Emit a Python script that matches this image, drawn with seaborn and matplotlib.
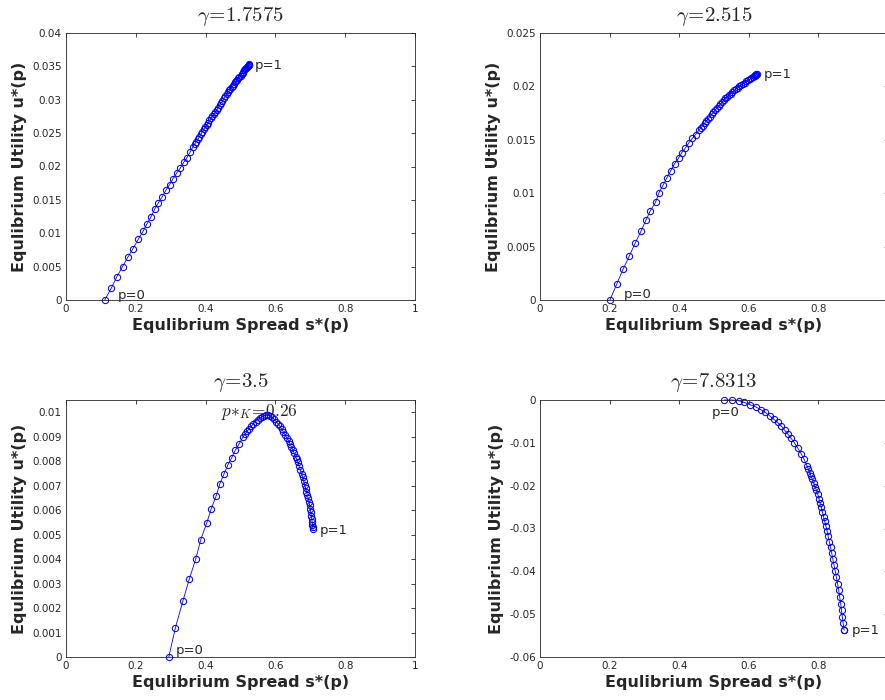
import matplotlib
matplotlib.use("Agg")
import matplotlib.pyplot as plt
import seaborn as sns
from matplotlib.ticker import FuncFormatter, FixedLocator

sns.set_style("white")
plt.rcParams['font.family'] = ['DejaVu Sans']
plt.rcParams['mathtext.fontset'] = 'cm'
plt.rcParams['axes.unicode_minus'] = False

# ---------------- data ----------------
titles = [r'$\gamma\!=\!1.7575$', r'$\gamma\!=\!2.515$', r'$\gamma\!=\!3.5$', r'$\gamma\!=\!7.8313$']

s1 = [0.111, 0.130, 0.145, 0.162, 0.177, 0.192, 0.207, 0.221, 0.232, 0.244,
      0.254, 0.265, 0.276, 0.287, 0.297, 0.307, 0.317, 0.328, 0.337, 0.346,
      0.355, 0.363, 0.369, 0.373, 0.378, 0.382, 0.386, 0.390, 0.395, 0.399,
      0.403, 0.407, 0.411, 0.415, 0.419, 0.424, 0.428, 0.432, 0.436, 0.440,
      0.444, 0.448, 0.452, 0.456, 0.460, 0.464, 0.468, 0.471, 0.475, 0.478,
      0.481, 0.485, 0.488, 0.491, 0.494, 0.497, 0.500, 0.503, 0.506, 0.508,
      0.511, 0.513, 0.515, 0.517, 0.519, 0.521, 0.522, 0.523, 0.524, 0.525]
u1 = [0.0, 0.0018, 0.0034, 0.0050, 0.0064, 0.0077, 0.0091, 0.0103, 0.0114, 0.0125,
      0.0136, 0.0146, 0.0155, 0.0165, 0.0173, 0.0182, 0.0190, 0.0198, 0.0206, 0.0213,
      0.0221, 0.0229, 0.0234, 0.0237, 0.0241, 0.0244, 0.0248, 0.0252, 0.0256, 0.0259,
      0.0262, 0.0265, 0.0269, 0.0272, 0.0275, 0.0278, 0.0282, 0.0285, 0.0288, 0.0292,
      0.0295, 0.0298, 0.0302, 0.0305, 0.0308, 0.0311, 0.0314, 0.0316, 0.0319, 0.0321,
      0.0323, 0.0326, 0.0328, 0.0330, 0.0332, 0.0334, 0.0336, 0.0338, 0.0340, 0.0342,
      0.0344, 0.0346, 0.0347, 0.0348, 0.0349, 0.0350, 0.0351, 0.0352, 0.0352, 0.0353]

s2 = [0.201, 0.221, 0.239, 0.257, 0.274, 0.290, 0.304, 0.317, 0.332, 0.342,
      0.354, 0.365, 0.376, 0.387, 0.398, 0.407, 0.418, 0.427, 0.438, 0.447,
      0.457, 0.463, 0.468, 0.473, 0.478, 0.483, 0.488, 0.493, 0.498, 0.503,
      0.508, 0.513, 0.518, 0.523, 0.528, 0.533, 0.538, 0.543, 0.548, 0.553,
      0.558, 0.563, 0.568, 0.573, 0.578, 0.583, 0.588, 0.593, 0.598, 0.603,
      0.607, 0.611, 0.614, 0.617, 0.619, 0.621, 0.622, 0.623]
u2 = [0.0, 0.00153, 0.00290, 0.00415, 0.00536, 0.00642, 0.00745, 0.00835, 0.00916, 0.01004,
      0.01078, 0.01147, 0.01212, 0.01278, 0.01328, 0.01378, 0.01424, 0.01468, 0.01515, 0.01549,
      0.01593, 0.01615, 0.01633, 0.01655, 0.01677, 0.01697, 0.01717, 0.01738, 0.01758, 0.01777,
      0.01797, 0.01815, 0.01834, 0.01852, 0.01870, 0.01887, 0.01903, 0.01918, 0.01933, 0.01948,
      0.01962, 0.01975, 0.01988, 0.02000, 0.02012, 0.02024, 0.02035, 0.02046, 0.02057, 0.02067,
      0.02076, 0.02085, 0.02093, 0.02100, 0.02105, 0.02110, 0.02113, 0.02115]

s3 = [0.2945, 0.3136, 0.3346, 0.3537, 0.3719, 0.3862, 0.4034, 0.4159, 0.4302, 0.4407,
      0.4522, 0.4637, 0.4751, 0.4847, 0.4962, 0.5067, 0.5130, 0.5190, 0.5250, 0.5310,
      0.5370, 0.5430, 0.5490, 0.5550, 0.5610, 0.5670, 0.5725, 0.5780, 0.5840, 0.5900,
      0.5960, 0.6020, 0.6080, 0.6130, 0.6180, 0.6230, 0.6280, 0.6330, 0.6380, 0.6420,
      0.6460, 0.6500, 0.6540, 0.6580, 0.6610, 0.6645, 0.6680, 0.6715, 0.6750, 0.6780,
      0.6810, 0.6840, 0.6865, 0.6890, 0.6915, 0.6940, 0.6960, 0.6980, 0.6998, 0.7013,
      0.7028, 0.7041, 0.7053, 0.7063, 0.7072, 0.7080]
u3 = [0.0, 0.00120, 0.00227, 0.00320, 0.00401, 0.00480, 0.00548, 0.00605, 0.00658, 0.00707,
      0.00746, 0.00784, 0.00815, 0.00844, 0.00871, 0.00898, 0.00910, 0.00922, 0.00933, 0.00943,
      0.00953, 0.00962, 0.00970, 0.00977, 0.00982, 0.00985, 0.00987, 0.00988, 0.00985, 0.00979,
      0.00971, 0.00962, 0.00952, 0.00942, 0.00931, 0.00919, 0.00907, 0.00895, 0.00883, 0.00871,
      0.00858, 0.00845, 0.00832, 0.00818, 0.00808, 0.00795, 0.00780, 0.00765, 0.00749, 0.00734,
      0.00719, 0.00704, 0.00690, 0.00676, 0.00662, 0.00648, 0.00634, 0.00620, 0.00606, 0.00592,
      0.00578, 0.00565, 0.00553, 0.00541, 0.00530, 0.00521]

s4 = [0.5298, 0.5508, 0.5709, 0.5871, 0.6033, 0.6205, 0.6348, 0.6473, 0.6597, 0.6711,
      0.6826, 0.6931, 0.7026, 0.7122, 0.7217, 0.7313, 0.7408, 0.7504, 0.7589, 0.7675,
      0.7715, 0.7752, 0.7790, 0.7828, 0.7866, 0.7905, 0.7943, 0.7981, 0.8015, 0.8048,
      0.8082, 0.8115, 0.8148, 0.8181, 0.8215, 0.8248, 0.8282, 0.8315, 0.8348, 0.8382,
      0.8415, 0.8449, 0.8482, 0.8516, 0.8550, 0.8583, 0.8612, 0.8640, 0.8664, 0.8687,
      0.8711, 0.8735, 0.8745]
u4 = [0.0, 0.0, -0.00016, -0.00055, -0.00109, -0.00164, -0.00226, -0.00288, -0.00366, -0.00444,
      -0.00522, -0.00608, -0.00701, -0.00795, -0.00896, -0.01005, -0.01122, -0.01255, -0.01387, -0.01543,
      -0.01620, -0.01699, -0.01777, -0.01855, -0.01940, -0.02026, -0.02110, -0.02197, -0.02300, -0.02400,
      -0.02505, -0.02610, -0.02723, -0.02836, -0.02945, -0.03054, -0.03183, -0.03312, -0.03440, -0.03569,
      -0.03713, -0.03857, -0.03993, -0.04130, -0.04285, -0.04441, -0.04597, -0.04753, -0.04909, -0.05065,
      -0.05213, -0.05361, -0.05380]

xticks_left = [0, 0.2, 0.4, 0.6, 0.8, 1.0]
xticks_right = [0, 0.2, 0.4, 0.6, 0.8]
yticks = [
    [0, 0.005, 0.01, 0.015, 0.02, 0.025, 0.03, 0.035, 0.04],
    [0, 0.005, 0.01, 0.015, 0.02, 0.025],
    [0, 0.001, 0.002, 0.003, 0.004, 0.005, 0.006, 0.007, 0.008, 0.009, 0.01],
    [-0.06, -0.05, -0.04, -0.03, -0.02, -0.01, 0],
]
ylims = [(0, 0.04), (0, 0.025), (0, 0.0105), (-0.06, 0)]
p0_pos = [(0.149, 0.0007), (0.242, 0.0005), (0.315, 0.00028), (0.493, -0.0030)]
p1_pos = [(0.542, 0.0352), (0.644, 0.0211), (0.726, 0.00517), (0.897, -0.0537)]
peak_label = r'$p{*}_K\!=\!0.26$'
peak_pos = (0.445, 0.01003)

series = [(s1, u1), (s2, u2), (s3, u3), (s4, u4)]

# ---------------- figure ----------------
fig = plt.figure(figsize=(8.85, 7.0), dpi=100)
W, H = 885.0, 700.0
boxes = [(66, 33, 349, 267), (540, 33, 348, 267), (66, 400, 349, 257), (540, 400, 348, 257)]

fmt = FuncFormatter(lambda v, pos: '%g' % round(v, 6))
edge = '#262626'
for i, (bx, by, bw, bh) in enumerate(boxes):
    ax = fig.add_axes([bx / W, 1 - (by + bh) / H, bw / W, bh / H])
    s, u = series[i]
    sns.lineplot(x=s, y=u, ax=ax, sort=False, estimator=None, color='#0000ff',
                 linewidth=0.6, marker='o', markersize=4.5, markerfacecolor='none',
                 markeredgecolor='#0000ff', markeredgewidth=0.75, clip_on=False)
    ax.set_xlim(0, 1)
    ax.set_ylim(*ylims[i])
    ax.xaxis.set_major_locator(FixedLocator(xticks_left if i % 2 == 0 else xticks_right))
    ax.yaxis.set_major_locator(FixedLocator(yticks[i]))
    ax.xaxis.set_major_formatter(fmt)
    ax.yaxis.set_major_formatter(fmt)
    ax.tick_params(direction='in', length=2.8, width=0.6, colors=edge, labelsize=7.5,
                   top=True, right=True, pad=3)
    for sp in ax.spines.values():
        sp.set_color(edge)
        sp.set_linewidth(0.6)
        sp.set_visible(True)
    ax.set_xlabel('Equlibrium Spread s*(p)', fontsize=11.5, fontweight='bold', labelpad=3)
    ax.set_ylabel('Equlibrium Utility u*(p)', fontsize=11.5, fontweight='bold', labelpad=4)
    ax.set_title(titles[i], fontsize=15, pad=9)
    ax.text(p0_pos[i][0], p0_pos[i][1], 'p=0', fontsize=9.5, ha='left', va='center')
    ax.text(p1_pos[i][0], p1_pos[i][1], 'p=1', fontsize=9.5, ha='left', va='center')
    if i == 2:
        ax.text(peak_pos[0], peak_pos[1], peak_label, fontsize=12.5, ha='left', va='center')

fig.savefig('out.png', dpi=100)
